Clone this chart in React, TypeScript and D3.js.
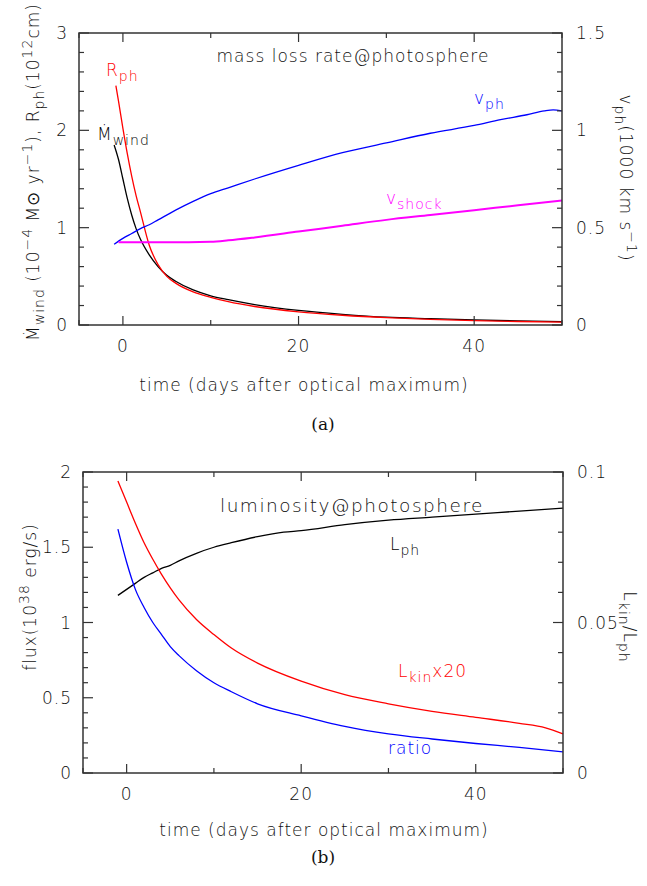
import React from "react";
import * as d3 from "d3";

// ---------- data ----------
const xTicksMajor = [0, 20, 40];
const xTicksMinor = [-5, 0, 10, 20, 30, 40, 50];

// panel (a)
const mWindT = [-1, -0.5, 0, 0.5, 1, 1.5, 2, 3, 4, 5, 6, 8, 10, 12, 15, 20, 25, 30, 35, 40, 45, 50];
const mWind = [1.85, 1.7, 1.5, 1.3, 1.13, 0.99, 0.88, 0.72, 0.6, 0.51, 0.45, 0.36, 0.3, 0.26, 0.21, 0.15, 0.11, 0.08, 0.065, 0.052, 0.042, 0.035];
const rPhT = [-0.8, -0.5, 0, 0.5, 1, 1.5, 2, 3, 4, 5, 6, 8, 10, 12, 15, 20, 25, 30, 35, 40, 45, 50];
const rPh = [2.46, 2.3, 2.02, 1.76, 1.53, 1.33, 1.16, 0.82, 0.62, 0.5, 0.43, 0.34, 0.285, 0.24, 0.19, 0.135, 0.1, 0.075, 0.058, 0.045, 0.036, 0.03];
const vPhT = [-1, 0, 1, 2, 3, 4, 6, 8, 10, 12, 15, 20, 25, 30, 35, 40, 43, 46, 48, 49, 50];
const vPh = [0.415, 0.445, 0.47, 0.495, 0.515, 0.54, 0.59, 0.635, 0.675, 0.705, 0.75, 0.82, 0.885, 0.935, 0.985, 1.025, 1.055, 1.08, 1.1, 1.105, 1.1];
const vShT = [-0.5, 0, 5, 10, 12, 15, 20, 25, 30, 35, 40, 45, 50];
const vSh = [0.425, 0.425, 0.425, 0.428, 0.435, 0.45, 0.48, 0.51, 0.54, 0.565, 0.59, 0.615, 0.64];

// panel (b)
const lPhT = [-1, 0, 1, 2, 3, 4, 5, 6, 8, 10, 12, 15, 18, 20, 25, 30, 35, 40, 45, 50];
const lPh = [1.18, 1.22, 1.26, 1.3, 1.33, 1.36, 1.38, 1.41, 1.46, 1.5, 1.53, 1.57, 1.6, 1.61, 1.65, 1.68, 1.7, 1.72, 1.74, 1.76];
const lKinT = [-1, 0, 1, 2, 3, 4, 5, 6, 8, 10, 12, 15, 20, 25, 30, 35, 40, 45, 48, 50];
const lKin = [1.94, 1.8, 1.66, 1.53, 1.42, 1.32, 1.23, 1.15, 1.02, 0.92, 0.83, 0.73, 0.61, 0.52, 0.46, 0.41, 0.37, 0.33, 0.3, 0.26];
const ratioT = [-1, 0, 1, 2, 3, 4, 5, 6, 8, 10, 12, 15, 20, 25, 30, 35, 40, 45, 50];
const ratio = [0.081, 0.07, 0.061, 0.055, 0.05, 0.046, 0.042, 0.039, 0.034, 0.03, 0.027, 0.023, 0.019, 0.0155, 0.013, 0.0113, 0.0098, 0.0085, 0.007];

const topLeftMajor = [0, 1, 2, 3];
const topRightMajor = [0, 0.5, 1, 1.5];
const botLeftMajor = [0, 0.5, 1, 1.5, 2];
const botRightMajor = [0, 0.05, 0.1];

const FONT = "'DejaVu Sans', sans-serif";
const AX = "#333";
const TXT = "#111";

function range(a: number, b: number, s: number) {
  const out: number[] = [];
  for (let v = a; v <= b + s / 1000; v += s) out.push(+v.toFixed(6));
  return out;
}

type Series = { t: number[]; v: number[]; color: string; side: "L" | "R"; width: number };

const txt = { fontFamily: FONT, fontSize: 17, fill: TXT, letterSpacing: 1, fontWeight: 300 as const };

function Panel(props: {
  x0: number; x1: number; y0: number; y1: number;
  yL: [number, number]; yR: [number, number];
  lMajor: number[]; lMinorStep: number; rMajor: number[]; rMinorStep: number;
  series: Series[];
}) {
  const { x0, x1, y0, y1 } = props;
  const x = d3.scaleLinear().domain([-5, 50]).range([x0, x1]);
  const yl = d3.scaleLinear().domain(props.yL).range([y1, y0]);
  const yr = d3.scaleLinear().domain(props.yR).range([y1, y0]);
  const lMinor = range(props.yL[0], props.yL[1], props.lMinorStep);
  const rMinor = range(props.yR[0], props.yR[1], props.rMinorStep);
  const isMaj = (arr: number[], v: number) => arr.some((a) => Math.abs(a - v) < 1e-6);
  return (
    <g>
      {props.series.map((s, i) => {
        const ys = s.side === "L" ? yl : yr;
        const line = d3
          .line<number>()
          .x((_, j) => x(s.t[j]))
          .y((d) => ys(d))
          .curve(d3.curveMonotoneX);
        return <path key={i} d={line(s.v) || ""} fill="none" stroke={s.color} strokeWidth={s.width} />;
      })}
      <rect x={x0} y={y0} width={x1 - x0} height={y1 - y0} fill="none" stroke={AX} strokeWidth={1.5} />
      {xTicksMinor.map((t) => {
        const L = isMaj(xTicksMajor, t) ? 9 : 5;
        return (
          <g key={"xt" + t}>
            <line x1={x(t)} x2={x(t)} y1={y1} y2={y1 - L} stroke={AX} strokeWidth={1.2} />
            <line x1={x(t)} x2={x(t)} y1={y0} y2={y0 + L} stroke={AX} strokeWidth={1.2} />
          </g>
        );
      })}
      {xTicksMajor.map((t) => (
        <text key={"xl" + t} x={x(t)} y={y1 + 27} textAnchor="middle" {...txt}>
          {t}
        </text>
      ))}
      {lMinor.map((v) => (
        <line key={"lt" + v} x1={x0} x2={x0 + (isMaj(props.lMajor, v) ? 10 : 5)} y1={yl(v)} y2={yl(v)} stroke={AX} strokeWidth={1.2} />
      ))}
      {props.lMajor.map((v) => (
        <text key={"ll" + v} x={x0 - 11} y={yl(v) + 6} textAnchor="end" {...txt}>
          {v}
        </text>
      ))}
      {rMinor.map((v) => (
        <line key={"rt" + v} x1={x1} x2={x1 - (isMaj(props.rMajor, v) ? 10 : 5)} y1={yr(v)} y2={yr(v)} stroke={AX} strokeWidth={1.2} />
      ))}
      {props.rMajor.map((v) => (
        <text key={"rl" + v} x={x1 + 14} y={yr(v) + 6} textAnchor="start" {...txt}>
          {v}
        </text>
      ))}
    </g>
  );
}

const sub = (s: string, size = 14) => (
  <tspan fontSize={size} dy={5}>{s}</tspan>
);

export default function App() {
  const seriesA: Series[] = [
    { t: mWindT, v: mWind, color: "#000", side: "L", width: 1.3 },
    { t: rPhT, v: rPh, color: "#ff0000", side: "L", width: 1.3 },
    { t: vPhT, v: vPh, color: "#0000ff", side: "R", width: 1.3 },
    { t: vShT, v: vSh, color: "#ff00ff", side: "R", width: 2 },
  ];
  const seriesB: Series[] = [
    { t: lPhT, v: lPh, color: "#000", side: "L", width: 1.3 },
    { t: lKinT, v: lKin, color: "#ff0000", side: "L", width: 1.3 },
    { t: ratioT, v: ratio, color: "#0000ff", side: "R", width: 1.3 },
  ];
  return (
    <svg width={647} height={886} style={{ position: "absolute", left: 0, top: 0, display: "block" }}>
      <rect width={647} height={886} fill="#fff" />
      <Panel x0={79} x1={562} y0={33} y1={325} yL={[0, 3]} yR={[0, 1.5]} lMajor={topLeftMajor} lMinorStep={0.2}
        rMajor={topRightMajor} rMinorStep={0.1} series={seriesA} />
      <text x={353} y={62} textAnchor="middle" {...txt}>mass loss rate@photosphere</text>
      <text x={106} y={76} {...txt} fill="#ff0000">R{sub("ph")}</text>
      <text x={97} y={140} {...txt} fill="#000">Ṁ{sub("wind")}</text>
      <text x={474} y={104} {...txt} fill="#0000ff">v{sub("ph")}</text>
      <text x={386} y={204} {...txt} fill="#ff00ff">v{sub("shock")}</text>
      <text x={304} y={391} textAnchor="middle" {...txt}>time (days after optical maximum)</text>
      <text transform="translate(39,172) rotate(-90)" textAnchor="middle" {...txt}>
        Ṁ{sub("wind")}<tspan dy={-5}>{"  (10"}</tspan>
        <tspan fontSize={14} dy={-7}>−4</tspan>
        <tspan dy={7}>{" M"}</tspan><tspan>⊙</tspan><tspan>{" yr"}</tspan>
        <tspan fontSize={14} dy={-7}>−1</tspan>
        <tspan dy={7}>{"), R"}</tspan>{sub("ph")}
        <tspan dy={-5}>(10</tspan>
        <tspan fontSize={14} dy={-7}>12</tspan>
        <tspan dy={7}>cm)</tspan>
      </text>
      <text transform="translate(620,178) rotate(90)" textAnchor="middle" {...txt}>
        v{sub("ph")}<tspan dy={-5}>(1000 km s</tspan>
        <tspan fontSize={14} dy={-7}>−1</tspan>
        <tspan dy={7}>)</tspan>
      </text>
      <text x={323} y={430} textAnchor="middle" fontFamily="'DejaVu Serif', serif" fontSize={17} fill="#111">(a)</text>

      <Panel x0={83} x1={563} y0={472} y1={773} yL={[0, 2]} yR={[0, 0.1]} lMajor={botLeftMajor} lMinorStep={0.1}
        rMajor={botRightMajor} rMinorStep={0.01} series={seriesB} />
      <text x={352} y={512} textAnchor="middle" {...txt} fontSize={18.5} letterSpacing={1.5}>luminosity@photosphere</text>
      <text x={390} y={550} {...txt} fill="#000">L{sub("ph")}</text>
      <text x={398} y={677} {...txt} fill="#ff0000">L{sub("kin")}<tspan dy={-5}>x20</tspan></text>
      <text x={388} y={754} {...txt} fill="#0000ff">ratio</text>
      <text x={324} y={836} textAnchor="middle" {...txt}>time (days after optical maximum)</text>
      <text transform="translate(36,597) rotate(-90)" textAnchor="middle" {...txt}>
        flux(10<tspan fontSize={14} dy={-7}>38</tspan><tspan dy={7}>{" erg/s)"}</tspan>
      </text>
      <text transform="translate(624,627) rotate(90)" textAnchor="middle" {...txt}>
        L{sub("kin")}<tspan dy={-5}>/L</tspan>{sub("ph")}
      </text>
      <text x={323} y={863} textAnchor="middle" fontFamily="'DejaVu Serif', serif" fontSize={17} fill="#111">(b)</text>
    </svg>
  );
}
